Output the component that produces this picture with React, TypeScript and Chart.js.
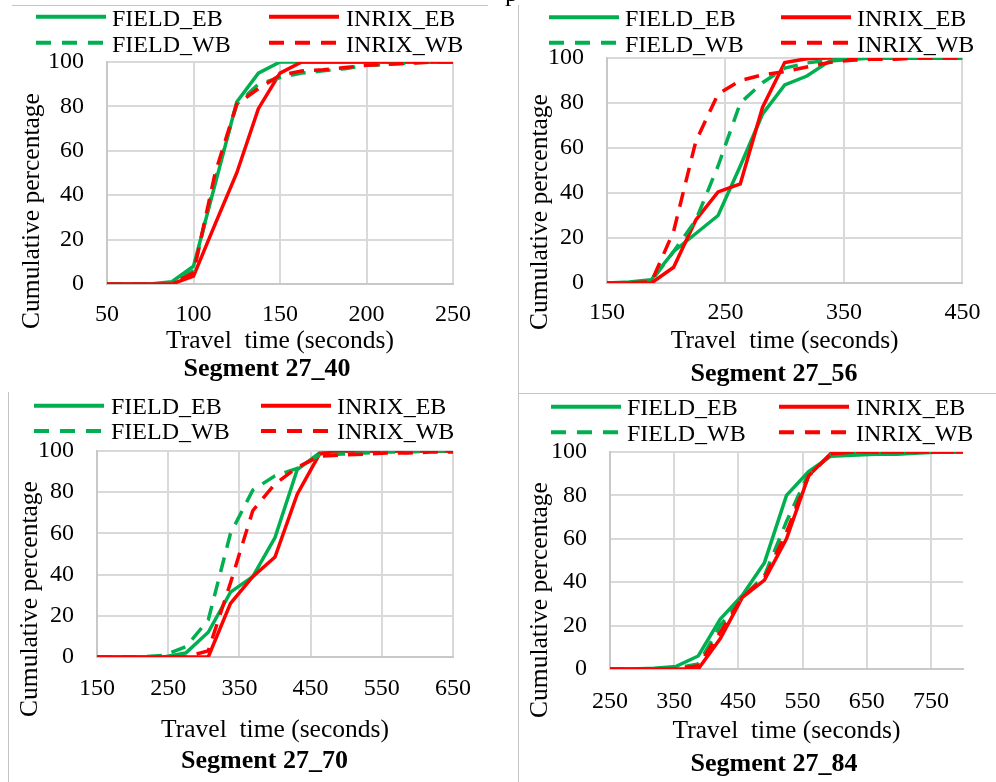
import React, { useEffect, useRef } from "react";
import { Chart, registerables } from "chart.js";

Chart.register(...registerables);

const FONT = "'Liberation Serif', 'Times New Roman', serif";
const GREEN = "#00B050";
const RED = "#FF0000";
const GRID = "#d9d9d9";
const AXIS = "#c8c8c8";

// ---------- data ----------
const seriesNames = ["FIELD_EB", "INRIX_EB", "FIELD_WB", "INRIX_WB"];
const segmentTitles = ["Segment 27_40", "Segment 27_56", "Segment 27_70", "Segment 27_84"];
const xAxisTitle = "Travel  time (seconds)";
const yAxisTitle = "Cumulative percentage";
const yTicks = [0, 20, 40, 60, 80, 100];

// Segment 27_40
const seg40Times = [50, 62.5, 75, 87.5, 100, 112.5, 125, 137.5, 150, 162.5, 175, 187.5, 200, 212.5, 225, 237.5, 250];
const seg40FieldEB = [0, 0, 0, 1, 8, 45, 82, 95, 100, 100, 100, 100, 100, 100, 100, 100, 100];
const seg40InrixEB = [0, 0, 0, 0, 3.5, 27, 50, 79, 95, 100, 100, 100, 100, 100, 100, 100, 100];
const seg40FieldWB = [0, 0, 0, 0.5, 6, 47, 81, 90, 93, 95, 96, 97, 98.5, 99, 99.5, 100, 100];
const seg40InrixWB = [0, 0, 0, 0, 5, 50, 81, 88, 94, 96, 96.5, 97.5, 98.5, 99, 99.5, 100, 100];
const seg40Ticks = [50, 100, 150, 200, 250];
const seg40Range = [50, 250];

// Segment 27_56
const seg56Times = [150, 168.75, 187.5, 206.25, 225, 243.75, 262.5, 281.25, 300, 318.75, 337.5, 356.25, 375, 393.75, 412.5, 431.25, 450];
const seg56FieldEB = [0, 0.5, 1.5, 14, 22, 30, 52, 75, 88, 92, 98.5, 99.5, 100, 100, 100, 100, 100];
const seg56InrixEB = [0, 0, 0, 7, 28, 40.5, 44, 78, 98, 99.7, 100, 100, 100, 100, 100, 100, 100];
const seg56FieldWB = [0, 0, 1, 14, 28, 52, 80, 89, 95.5, 97.8, 99, 99.5, 100, 100, 100, 100, 100];
const seg56InrixWB = [0, 0, 0.5, 23, 63, 84, 90, 92.5, 94, 96, 98, 99, 99.5, 99.5, 100, 100, 100];
const seg56Ticks = [150, 250, 350, 450];
const seg56Range = [150, 450];

// Segment 27_70
const seg70Times = [150, 181.25, 212.5, 243.75, 275, 306.25, 337.5, 368.75, 400, 431.25, 462.5, 493.75, 525, 556.25, 587.5, 618.75, 650];
const seg70FieldEB = [0, 0, 0, 0, 2, 12, 31.5, 39, 58, 91, 99, 100, 100, 100, 100, 100, 100];
const seg70InrixEB = [0, 0, 0, 0, 0, 0, 26, 39, 48.5, 79, 98.5, 100, 100, 100, 100, 100, 100];
const seg70FieldWB = [0, 0, 0, 0.8, 5, 18, 60, 81, 88, 91.5, 98, 98.5, 99, 99.5, 99.5, 100, 100];
const seg70InrixWB = [0, 0, 0, 0, 0, 3, 36, 71, 84, 92, 97.5, 98, 98.5, 99, 99, 99.5, 99.5];
const seg70Ticks = [150, 250, 350, 450, 550, 650];
const seg70Range = [150, 650];

// Segment 27_84
const seg84Times = [250, 284.375, 318.75, 353.125, 387.5, 421.875, 456.25, 490.625, 525, 559.375, 593.75, 628.125, 662.5, 696.875, 731.25, 765.625, 800];
const seg84FieldEB = [0, 0, 0.3, 1.2, 6, 23, 34, 49, 80, 91, 98, 98.5, 99, 99, 99.5, 100, 100];
const seg84InrixEB = [0, 0, 0, 0, 0, 14, 33, 41, 60, 89, 99.2, 100, 100, 100, 100, 100, 100];
const seg84FieldWB = [0, 0, 0, 0.5, 2.3, 20, 33, 43, 68, 90, 98.5, 99.5, 100, 100, 100, 100, 100];
const seg84InrixWB = [0, 0, 0, 0, 1.5, 17, 33, 42, 63, 89, 99, 100, 100, 100, 100, 100, 100];
const seg84Ticks = [250, 350, 450, 550, 650, 750];
const seg84Range = [250, 800];

const panelTimes = [seg40Times, seg56Times, seg70Times, seg84Times];
const panelSeries = [
  [seg40FieldEB, seg40InrixEB, seg40FieldWB, seg40InrixWB],
  [seg56FieldEB, seg56InrixEB, seg56FieldWB, seg56InrixWB],
  [seg70FieldEB, seg70InrixEB, seg70FieldWB, seg70InrixWB],
  [seg84FieldEB, seg84InrixEB, seg84FieldWB, seg84InrixWB],
];
const panelXTicks = [seg40Ticks, seg56Ticks, seg70Ticks, seg84Ticks];
const panelXRange = [seg40Range, seg56Range, seg70Range, seg84Range];

// ---------- styles / layout ----------
const seriesColors = [GREEN, RED, GREEN, RED];
const seriesDashed = [false, false, true, true];
const seriesOrder = [4, 3, 2, 1];

type Layout = {
  left: number; top: number; width: number; height: number;
  pl: number; pr: number; pt: number; pb: number;
  xTickPad: number;
  xTitleBase: number; segX: number; segBase: number;
  yTitleBase: number; yTitleY: number;
  legLineX: number[]; legTextX: number[]; legLineY: number[]; legTextBase: number[];
};

const layouts: Layout[] = [
  { left: 0, top: 0, width: 496, height: 390, pl: 107, pr: 453, pt: 62, pb: 284, xTickPad: 16.6,
    xTitleBase: 348, segX: 267, segBase: 376, yTitleBase: 39, yTitleY: 211,
    legLineX: [36, 269], legTextX: [112, 346], legLineY: [16.7, 42.7], legTextBase: [26, 51.7] },
  { left: 496, top: 0, width: 500, height: 390, pl: 111, pr: 467, pt: 58, pb: 283, xTickPad: 15.6,
    xTitleBase: 348, segX: 278, segBase: 381, yTitleBase: 51, yTitleY: 212,
    legLineX: [53, 285], legTextX: [129, 361], legLineY: [17.3, 42.7], legTextBase: [26, 51.7] },
  { left: 0, top: 390, width: 496, height: 392, pl: 97, pr: 453, pt: 61, pb: 267, xTickPad: 17.2,
    xTitleBase: 347, segX: 264.5, segBase: 377.7, yTitleBase: 36.5, yTitleY: 209,
    legLineX: [34, 261], legTextX: [111, 337], legLineY: [15.7, 41], legTextBase: [24, 49.3] },
  { left: 496, top: 390, width: 500, height: 392, pl: 114, pr: 467, pt: 62, pb: 279, xTickPad: 18.6,
    xTitleBase: 348, segX: 278, segBase: 381, yTitleBase: 51, yTitleY: 210,
    legLineX: [55, 283], legTextX: [131, 360], legLineY: [16.7, 42.3], legTextBase: [25, 50.7] },
];

function makeTextPlugin(idx: number) {
  const L = layouts[idx];
  return {
    id: "panelText" + idx,
    afterDraw(chart: any) {
      const ctx = chart.ctx as CanvasRenderingContext2D;
      const ca = chart.chartArea;
      ctx.save();
      // legend (2 columns x 2 rows)
      for (let s = 0; s < 4; s++) {
        const col = s % 2;
        const row = Math.floor(s / 2);
        const lx = L.legLineX[col];
        const ly = L.legLineY[row];
        ctx.beginPath();
        ctx.strokeStyle = seriesColors[s];
        ctx.lineWidth = 4;
        ctx.lineCap = "butt";
        ctx.setLineDash(seriesDashed[s] ? [15, 11] : []);
        ctx.moveTo(lx, ly);
        ctx.lineTo(lx + 70, ly);
        ctx.stroke();
        ctx.setLineDash([]);
        ctx.fillStyle = "#000";
        ctx.font = `24px ${FONT}`;
        ctx.textAlign = "left";
        ctx.textBaseline = "alphabetic";
        ctx.fillText(seriesNames[s], L.legTextX[col], L.legTextBase[row]);
      }
      // x axis title
      ctx.fillStyle = "#000";
      ctx.font = `25.5px ${FONT}`;
      ctx.textAlign = "center";
      ctx.textBaseline = "alphabetic";
      ctx.fillText(xAxisTitle, (ca.left + ca.right) / 2, L.xTitleBase);
      // segment title
      ctx.font = `bold 26px ${FONT}`;
      ctx.fillText(segmentTitles[idx], L.segX, L.segBase);
      // y axis title
      ctx.font = `25.5px ${FONT}`;
      ctx.translate(L.yTitleBase, L.yTitleY);
      ctx.rotate(-Math.PI / 2);
      ctx.fillText(yAxisTitle, 0, 0);
      ctx.restore();
    },
  };
}

function Panel({ idx }: { idx: number }) {
  const ref = useRef<HTMLCanvasElement | null>(null);
  const L = layouts[idx];
  useEffect(() => {
    if (!ref.current) return;
    const times = panelTimes[idx];
    const xt = panelXTicks[idx];
    const xr = panelXRange[idx];
    const datasets = panelSeries[idx].map((vals, s) => ({
      label: seriesNames[s],
      data: times.map((t, i) => ({ x: t, y: vals[i] })),
      borderColor: seriesColors[s],
      backgroundColor: seriesColors[s],
      borderWidth: 3.5,
      borderDash: seriesDashed[s] ? [15, 10] : [],
      pointRadius: 0,
      pointHoverRadius: 0,
      fill: false,
      tension: 0,
      order: seriesOrder[s],
    }));
    const chart = new Chart(ref.current, {
      type: "line",
      data: { datasets },
      options: {
        animation: false,
        responsive: false,
        maintainAspectRatio: false,
        events: [],
        layout: { padding: { left: 0, top: L.pt, right: L.width - L.pr, bottom: 0 } },
        plugins: {
          legend: { display: false },
          tooltip: { enabled: false },
          title: { display: false },
        },
        scales: {
          x: {
            type: "linear",
            min: xr[0],
            max: xr[1],
            afterBuildTicks: (scale: any) => {
              scale.ticks = xt.map((v) => ({ value: v }));
            },
            afterFit: (scale: any) => {
              scale.height = L.height - L.pb;
            },
            grid: { color: GRID, lineWidth: 2, drawTicks: false },
            border: { color: AXIS, width: 2 },
            ticks: {
              padding: L.xTickPad,
              color: "#000",
              font: { family: FONT, size: 24 },
              maxRotation: 0,
              autoSkip: false,
            },
          },
          y: {
            type: "linear",
            min: 0,
            max: 100,
            afterBuildTicks: (scale: any) => {
              scale.ticks = yTicks.map((v) => ({ value: v }));
            },
            afterFit: (scale: any) => {
              scale.width = L.pl;
            },
            grid: { color: GRID, lineWidth: 2, drawTicks: false },
            border: { color: AXIS, width: 2 },
            ticks: {
              padding: 23,
              color: "#000",
              font: { family: FONT, size: 24 },
            },
          },
        },
      },
      plugins: [makeTextPlugin(idx)],
    } as any);
    return () => chart.destroy();
  }, [idx]);
  return (
    <canvas
      ref={ref}
      width={L.width}
      height={L.height}
      style={{ position: "absolute", left: L.left, top: L.top, width: L.width, height: L.height }}
    />
  );
}

const frameLine = (style: React.CSSProperties) => (
  <div style={{ position: "absolute", background: "#c4c4c4", ...style }} />
);

export default function App() {
  return (
    <div
      style={{
        position: "absolute",
        left: 0,
        top: 0,
        width: 996,
        height: 782,
        background: "#fff",
        overflow: "hidden",
      }}
    >
      {[0, 1, 2, 3].map((i) => (
        <Panel key={i} idx={i} />
      ))}
      {frameLine({ left: 12, top: 5, width: 476, height: 1 })}
      {frameLine({ left: 518, top: 5, width: 1, height: 777 })}
      {frameLine({ left: 8, top: 392, width: 1, height: 390 })}
      {frameLine({ left: 518, top: 393, width: 478, height: 1 })}
      <div
        style={{
          position: "absolute",
          left: 505,
          top: -20,
          fontFamily: FONT,
          fontSize: 26,
          lineHeight: "26px",
          color: "#000",
        }}
      >
        p
      </div>
    </div>
  );
}
